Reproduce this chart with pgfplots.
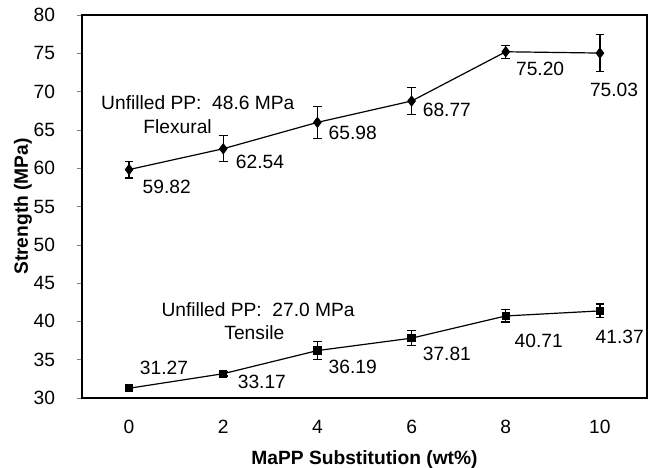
\documentclass[border=0pt]{standalone}
\usepackage{fontspec}
\setmainfont{Liberation Sans}
\usepackage{pgfplots}
\pgfplotsset{compat=1.18}

\pgfplotstableread{
x  y      e
0  59.82  1.1
2  62.54  1.7
4  65.98  2.1
6  68.77  1.8
8  75.20  0.85
10 75.03  2.4
}\flexural

\pgfplotstableread{
x  y      e
0  31.27  0.3
2  33.17  0.3
4  36.19  1.2
6  37.81  1.0
8  40.71  0.8
10 41.37  0.9
}\tensile

\begin{document}
\begin{tikzpicture}[font=\fontsize{9.6}{11}\selectfont]
\begin{axis}[
    name=ax,
    scale only axis,
    width=282.5pt, height=191.5pt,
    xmin=-1, xmax=11,
    ymin=30, ymax=80,
    xtick={0,2,...,10},
    ytick={30,35,...,80},
    /pgf/number format/assume math mode=true,
    tick align=outside,
    major tick length=2.5pt,
    xtick style={draw=none},
    ytick pos=left,
    axis line style={line width=0.6pt},
    xticklabel style={yshift=-5pt},
    yticklabel style={xshift=-7.5pt},
    xlabel={\textbf{MaPP Substitution (wt\%)}},
    ylabel={\textbf{Strength (MPa)}},
    xlabel style={yshift=-1.5pt},
    ylabel style={yshift=-6pt},
    clip=false,
]
\addplot[black, line width=0.6pt, mark=diamond*, mark size=2.4pt,
    error bars/.cd, y dir=both, y explicit,
    error bar style={line width=0.6pt},
    error mark options={rotate=90, mark size=2.2pt, line width=0.6pt}]
    table[x=x, y=y, y error=e] {\flexural};
\addplot[black, line width=0.6pt, mark=square*, mark size=1.8pt,
    error bars/.cd, y dir=both, y explicit,
    error bar style={line width=0.6pt},
    error mark options={rotate=90, mark size=2.2pt, line width=0.6pt}]
    table[x=x, y=y, y error=e] {\tensile};

\node at (axis cs:0.8,57.5) {59.82};
\node at (axis cs:2.78,60.8) {62.54};
\node at (axis cs:4.75,64.6) {65.98};
\node at (axis cs:6.75,67.6) {68.77};
\node at (axis cs:8.73,73.0) {75.20};
\node at (axis cs:10.3,70.2) {75.03};

\node at (axis cs:0.74,33.9) {31.27};
\node at (axis cs:2.82,32.1) {33.17};
\node at (axis cs:4.75,34.05) {36.19};
\node at (axis cs:6.75,35.7) {37.81};
\node at (axis cs:8.7,37.4) {40.71};
\node at (axis cs:10.42,38.0) {41.37};

\node at (axis cs:1.46,68.6) {Unfilled PP:\ \ 48.6 MPa};
\node at (axis cs:1.03,65.4) {Flexural};
\node at (axis cs:2.74,41.5) {Unfilled PP:\ \ 27.0 MPa};
\node at (axis cs:2.66,38.5) {Tensile};
\end{axis}
\pgfresetboundingbox
\path ([shift={(-41pt,-35pt)}]ax.south west) rectangle ([shift={(2.5pt,7.5pt)}]ax.north east);
\end{tikzpicture}
\end{document}
